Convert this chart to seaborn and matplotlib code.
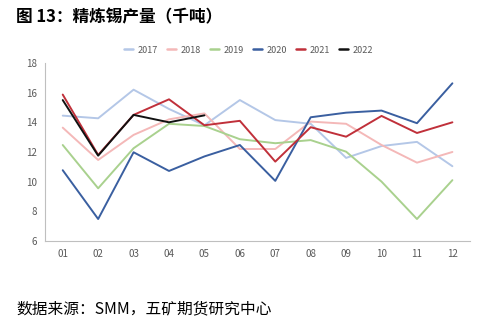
import matplotlib
matplotlib.use("Agg")
import matplotlib.pyplot as plt
import seaborn as sns
import pandas as pd
import numpy as np

months = ["01", "02", "03", "04", "05", "06", "07", "08", "09", "10", "11", "12"]
y2017 = [14.45, 14.27, 16.2, 14.9, 13.8, 15.5, 14.15, 13.9, 11.6, 12.4, 12.68, 11.04]
y2018 = [13.64, 11.46, 13.15, 14.2, 14.6, 12.2, 12.2, 14.05, 13.9, 12.47, 11.28, 12.0]
y2019 = [12.47, 9.55, 12.25, 13.9, 13.75, 12.86, 12.59, 12.8, 12.02, 10.0, 7.48, 10.1]
y2020 = [10.77, 7.48, 11.98, 10.72, 11.7, 12.47, 10.05, 14.34, 14.65, 14.79, 13.94, 16.63]
y2021 = [15.87, 11.8, 14.5, 15.55, 13.8, 14.1, 11.35, 13.67, 13.03, 14.43, 13.28, 14.0]
y2022 = [15.5, 11.75, 14.5, 14.0, 14.47]
years = ["2017", "2018", "2019", "2020", "2021", "2022"]
series = [y2017, y2018, y2019, y2020, y2021, y2022]
colors = ["#b4c7e7", "#f4b8b8", "#a9d18e", "#3a5fa0", "#c0303a", "#111111"]

rows = []
for yr, vals in zip(years, series):
    for i, v in enumerate(vals):
        rows.append({"year": yr, "m": i, "v": v})
df = pd.DataFrame(rows)

sns.set_theme(style="white")
plt.rcParams["font.family"] = ["Noto Sans CJK SC", "DejaVu Sans"]

fig = plt.figure(figsize=(4.92, 3.23), dpi=100)
ax = fig.add_axes([0.0915, 0.254, 0.864, 0.551])
sns.lineplot(data=df, x="m", y="v", hue="year", palette=dict(zip(years, colors)),
             linewidth=1.4, ax=ax, legend=False)

ax.set_xlim(-0.5, 11.5)
ax.set_ylim(6, 18)
ax.set_yticks(range(6, 19, 2))
ax.set_xticks(range(12))
ax.set_xticklabels(months)
ax.set_xlabel("")
ax.set_ylabel("")
ax.tick_params(axis="both", labelsize=7, colors="#595959", length=0, pad=6)
for s in ["top", "right"]:
    ax.spines[s].set_visible(False)
for s in ["left", "bottom"]:
    ax.spines[s].set_color("#bfbfbf")
    ax.spines[s].set_linewidth(0.8)

from matplotlib.lines import Line2D
handles = [Line2D([0], [0], color=c, lw=1.8) for c in colors]
fig.legend(handles, years, loc="center", bbox_to_anchor=(0.505, 0.845), ncol=6,
           frameon=False, fontsize=6.5, handlelength=1.0, handletextpad=0.5,
           columnspacing=1.0, labelcolor="#595959")

fig.text(0.033, 0.945, "图 13：精炼锡产量（千吨）", fontsize=12, fontweight="bold",
         ha="left", va="center", color="#000000")
fig.text(0.033, 0.045, "数据来源：SMM，五矿期货研究中心", fontsize=11.3,
         ha="left", va="center", color="#000000")

fig.savefig("out.png", dpi=100)
